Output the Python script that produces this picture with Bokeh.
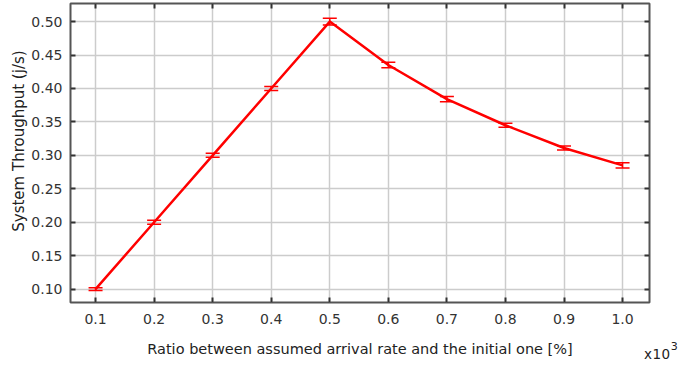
from bokeh.plotting import figure
from bokeh.models import (ColumnDataSource, Whisker, TeeHead, LinearAxis, FixedTicker,
                          NumeralTickFormatter, Range1d, Div)
from bokeh.layouts import column
from bokeh.embed import file_html
from bokeh.resources import INLINE

ratio = [0.1, 0.2, 0.3, 0.4, 0.5, 0.6, 0.7, 0.8, 0.9, 1.0]
throughput = [0.100, 0.200, 0.300, 0.400, 0.500, 0.435, 0.384, 0.345, 0.311, 0.285]
err = [0.002, 0.003, 0.003, 0.003, 0.005, 0.004, 0.004, 0.003, 0.003, 0.004]
y_ticks = [0.10, 0.15, 0.20, 0.25, 0.30, 0.35, 0.40, 0.45, 0.50]
x_label = "Ratio between assumed arrival rate and the initial one [%]"
y_label = "System Throughput (j/s)"
scale_base = "x10"
scale_exp = "3"

FONT = "DejaVu Sans"

src = ColumnDataSource(dict(
    x=ratio, y=throughput,
    lower=[t - e for t, e in zip(throughput, err)],
    upper=[t + e for t, e in zip(throughput, err)],
))

p = figure(width=678, height=367, output_backend="svg", toolbar_location=None,
           x_range=Range1d(0.0572, 1.046), y_range=Range1d(0.080, 0.527),
           x_axis_location=None, y_axis_location=None,
           min_border_left=70, min_border_right=29, min_border_top=3, min_border_bottom=65)
p.outline_line_color = "#555555"
p.outline_line_width = 2
p.background_fill_color = "white"
p.border_fill_color = "white"

xticker = FixedTicker(ticks=ratio)
yticker = FixedTicker(ticks=y_ticks)

def style(ax, show_labels):
    ax.axis_line_color = None
    ax.major_tick_in = 5
    ax.major_tick_out = 0
    ax.major_tick_line_color = "#333333"
    ax.major_tick_line_width = 2
    ax.minor_tick_line_color = None
    ax.major_label_text_font = FONT
    ax.major_label_text_color = "#333333"
    ax.axis_label_text_font = FONT
    ax.axis_label_text_font_style = "normal"
    ax.axis_label_text_color = "#222222"
    ax.axis_label_text_font_size = "14.5px"
    if show_labels:
        ax.major_label_text_font_size = "14px"
    else:
        ax.major_label_text_font_size = "1px"
        ax.major_label_text_color = None
        ax.major_label_standoff = 0

xb = LinearAxis(ticker=xticker, formatter=NumeralTickFormatter(format="0.0"), axis_label=x_label)
style(xb, True)
xb.major_label_standoff = 11
xb.axis_label_standoff = 14
p.add_layout(xb, "below")

# leading no-break spaces lift the title slightly above the frame middle, as in the original
yl = LinearAxis(ticker=yticker, formatter=NumeralTickFormatter(format="0.00"),
                axis_label="\u00a0" * 5 + y_label)
style(yl, True)
yl.major_label_standoff = 8
yl.axis_label_standoff = 0
yl.axis_label_text_font_size = "15px"
p.add_layout(yl, "left")

xt = LinearAxis(ticker=xticker)
style(xt, False)
p.add_layout(xt, "above")
yr = LinearAxis(ticker=yticker)
style(yr, False)
p.add_layout(yr, "right")

p.xgrid.ticker = xticker
p.ygrid.ticker = yticker
p.grid.grid_line_color = "#cccccc"
p.grid.grid_line_width = 1.5

p.line("x", "y", source=src, line_color="#ff0000", line_width=2.5)
w = Whisker(base="x", upper="upper", lower="lower", source=src,
            line_color="#ff0000", line_width=1.5,
            upper_head=TeeHead(size=14, line_color="#ff0000", line_width=1.5),
            lower_head=TeeHead(size=14, line_color="#ff0000", line_width=1.5))
p.add_layout(w)

txt = ('<span style="font-family:\'DejaVu Sans\';font-size:13.5px;color:#222222;'
       'letter-spacing:0.5px;line-height:16px">%s</span>'
       '<span style="font-family:\'DejaVu Sans\';font-size:11px;color:#222222;'
       'position:relative;top:-9px;line-height:16px">%s</span>') % (scale_base, scale_exp)
div = Div(text=txt, width=34, height=16, margin=(-21, 0, 0, 644),
          styles={"line-height": "16px", "white-space": "nowrap"})

layout = column(p, div, spacing=0)
open("out.html", "w").write(file_html(layout, INLINE))
